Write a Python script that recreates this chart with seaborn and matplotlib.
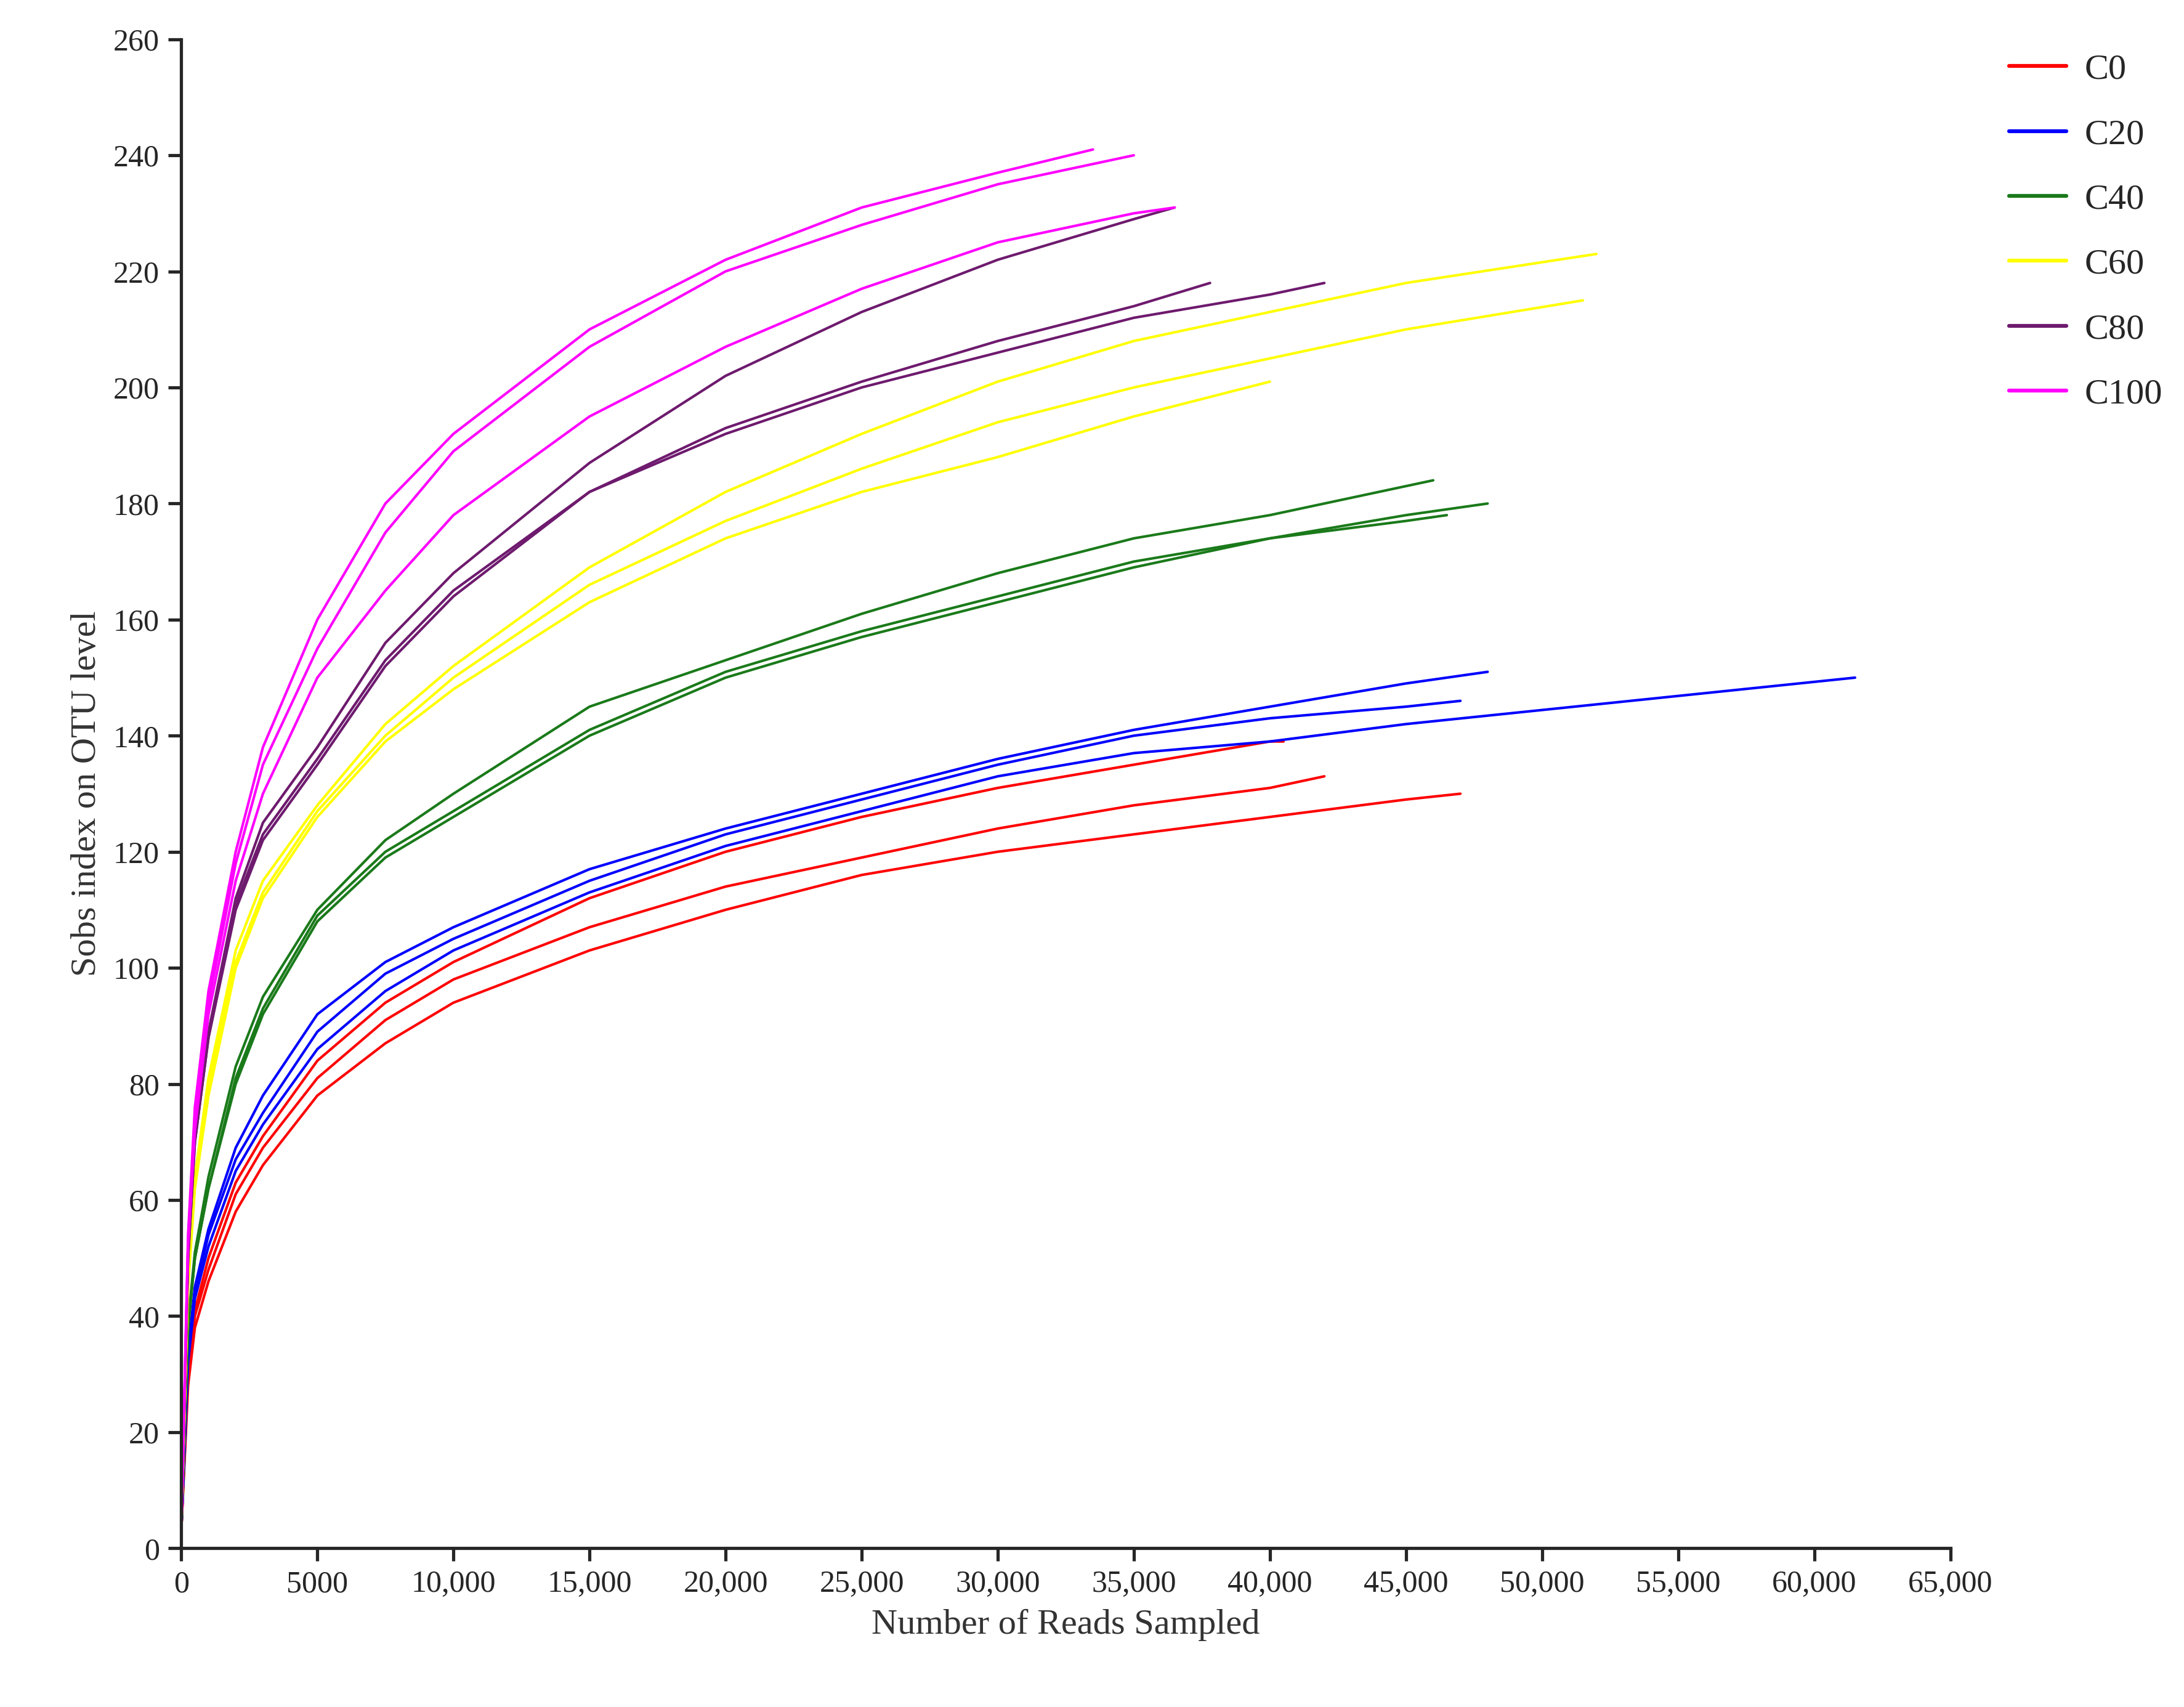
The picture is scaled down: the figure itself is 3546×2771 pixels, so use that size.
import numpy as np
import pandas as pd
import matplotlib
matplotlib.use("Agg")
import matplotlib.pyplot as plt
import seaborn as sns
from matplotlib.ticker import FuncFormatter

# reads sampled / Sobs values, three samples per group
x_pts = [0, 250, 500, 1000, 2000, 3000, 5000, 7500, 10000, 15000, 20000, 25000, 30000, 35000, 40000, 45000]

curves = {
    "C0": [
        ([3, 28, 38, 46, 58, 66, 78, 87, 94, 103, 110, 116, 120, 123, 126, 129], 47000, 130),
        ([3, 30, 40, 48, 61, 69, 81, 91, 98, 107, 114, 119, 124, 128, 131, None], 42000, 133),
        ([3, 31, 41, 50, 63, 71, 84, 94, 101, 112, 120, 126, 131, 135, 139, None], 40500, 139),
    ],
    "C20": [
        ([3, 32, 43, 52, 65, 73, 86, 96, 103, 113, 121, 127, 133, 137, 139, 142], 61500, 150),
        ([3, 33, 44, 54, 67, 75, 89, 99, 105, 115, 123, 129, 135, 140, 143, 145], 47000, 146),
        ([3, 34, 45, 55, 69, 78, 92, 101, 107, 117, 124, 130, 136, 141, 145, 149], 48000, 151),
    ],
    "C40": [
        ([3, 38, 50, 62, 80, 92, 108, 119, 126, 140, 150, 157, 163, 169, 174, 177], 46500, 178),
        ([3, 38, 50, 62, 81, 93, 109, 120, 127, 141, 151, 158, 164, 170, 174, 178], 48000, 180),
        ([3, 39, 51, 64, 83, 95, 110, 122, 130, 145, 153, 161, 168, 174, 178, 183], 46000, 184),
    ],
    "C60": [
        ([3, 45, 62, 78, 100, 112, 126, 139, 148, 163, 174, 182, 188, 195, 201, None], 40000, 201),
        ([3, 46, 63, 80, 101, 113, 127, 140, 150, 166, 177, 186, 194, 200, 205, 210], 51500, 215),
        ([3, 47, 64, 81, 103, 115, 128, 142, 152, 169, 182, 192, 201, 208, 213, 218], 52000, 223),
    ],
    "C80": [
        ([3, 50, 70, 88, 110, 122, 135, 152, 164, 182, 192, 200, 206, 212, 216, None], 42000, 218),
        ([3, 50, 70, 88, 111, 123, 136, 153, 165, 182, 193, 201, 208, 214, None, None], 37800, 218),
        ([3, 51, 71, 89, 112, 125, 138, 156, 168, 187, 202, 213, 222, 229, None, None], 36500, 231),
    ],
    "C100": [
        ([3, 52, 72, 92, 115, 130, 150, 165, 178, 195, 207, 217, 225, 230, None, None], 36500, 231),
        ([3, 53, 74, 94, 118, 135, 155, 175, 189, 207, 220, 228, 235, None, None, None], 35000, 240),
        ([3, 54, 76, 96, 120, 138, 160, 180, 192, 210, 222, 231, 237, None, None, None], 33500, 241),
    ],
}
colors = {"C0": "#ff0000", "C20": "#0000ff", "C40": "#1a7a1a",
          "C60": "#ffff00", "C80": "#6e1a6e", "C100": "#ff00ff"}

rows = []
for grp, samples in curves.items():
    for i, (ys, x_end, y_end) in enumerate(samples):
        for xv, yv in zip(x_pts, ys):
            if yv is not None and xv < x_end:
                rows.append((grp, f"{grp}_{i}", xv, yv))
        rows.append((grp, f"{grp}_{i}", x_end, y_end))
df = pd.DataFrame(rows, columns=["group", "sample", "reads", "sobs"])

sns.set_theme(style="ticks")
plt.rcParams["font.family"] = ["Liberation Serif", "DejaVu Serif"]

fig = plt.figure(figsize=(11.82, 9.237), dpi=300)
ax = fig.add_axes([0.083, 0.093, 0.81, 0.884])

sns.lineplot(data=df, x="reads", y="sobs", hue="group", units="sample",
             estimator=None, palette=colors, linewidth=1.0, ax=ax,
             hue_order=list(curves.keys()))

ax.set_xlim(0, 65000)
ax.set_ylim(0, 260)
ax.set_xticks(np.arange(0, 65001, 5000))
ax.set_yticks(np.arange(0, 261, 20))
ax.xaxis.set_major_formatter(FuncFormatter(lambda v, p: "0" if v == 0 else ("5000" if v == 5000 else f"{int(v):,}")))
ax.tick_params(labelsize=12, direction="out", length=5)
for s in ["top", "right"]:
    ax.spines[s].set_visible(False)
ax.set_xlabel("Number of Reads Sampled", fontsize=14, color="#333333")
ax.set_ylabel("Sobs index on OTU level", fontsize=14, color="#333333")

leg = ax.legend(loc="upper left", bbox_to_anchor=(1.025, 1.0), frameon=False,
                fontsize=14, handlelength=1.6, handletextpad=0.5, labelspacing=0.9,
                borderaxespad=0)
for line in leg.get_lines():
    line.set_linewidth(1.5)

plt.savefig("out.png", dpi=300)
